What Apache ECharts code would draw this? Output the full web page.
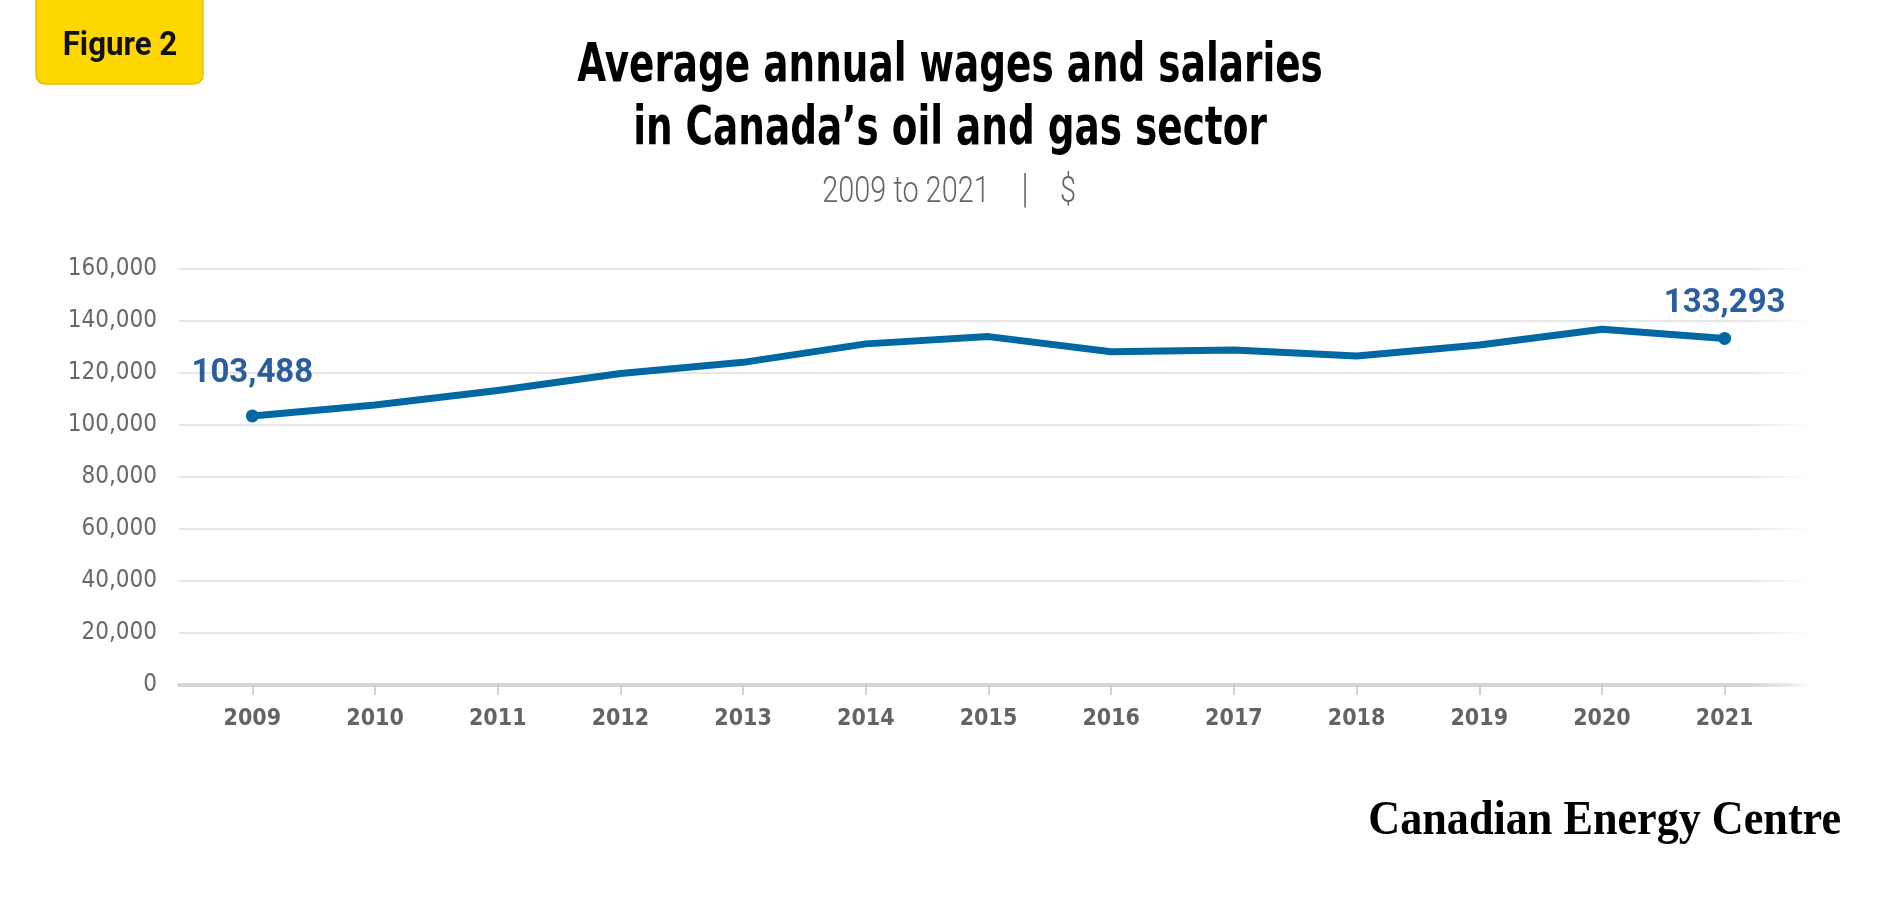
<!DOCTYPE html>
<html>
<head>
<meta charset="utf-8">
<title>Average annual wages and salaries in Canada's oil and gas sector</title>
<script src="https://cdn.jsdelivr.net/npm/echarts@6/dist/echarts.min.js"></script>
<style>
  html, body { margin: 0; padding: 0; background: #fff; }
  #main { width: 1900px; height: 900px; }
</style>
</head>
<body>
<div id="main"></div>
<script>
// data
var years = ['2009', '2010', '2011', '2012', '2013', '2014', '2015', '2016', '2017', '2018', '2019', '2020', '2021'];
var wages = [103488, 107700, 113300, 119800, 124100, 131200, 134000, 128200, 128800, 126500, 130800, 136800, 133293];
var yTicks = [0, 20000, 40000, 60000, 80000, 100000, 120000, 140000, 160000];
var titleLines = ['Average annual wages and salaries', 'in Canada\u2019s oil and gas sector'];

var fmt = function (v) { return v.toLocaleString('en-US'); };
var cond = '"DejaVu Sans Condensed", "DejaVu Sans", sans-serif';

var last = wages.length - 1;
var lineData = wages.map(function (v, i) {
  var end = (i === 0 || i === last);
  return {
    value: v,
    symbol: end ? 'circle' : 'none',
    label: { show: end, distance: i === 0 ? 19 : 12 }
  };
});

var myChart = echarts.init(document.getElementById('main'));

// grid lines and the base line fade out on the right
var gridFade = new echarts.graphic.LinearGradient(0, 0, 1, 0, [
  { offset: 0, color: '#dedede' },
  { offset: 0.96, color: '#dedede' },
  { offset: 1, color: 'rgba(222,222,222,0)' }
]);
var axisFade = new echarts.graphic.LinearGradient(0, 0, 1, 0, [
  { offset: 0, color: '#d4d4d4' },
  { offset: 0.96, color: '#d4d4d4' },
  { offset: 1, color: 'rgba(212,212,212,0)' }
]);

function headText(txt, x, y, opts) {
  return {
    type: 'text',
    x: x,
    y: y,
    scaleX: opts.scaleX || 1,
    style: {
      text: txt,
      fontFamily: opts.font || cond,
      fontWeight: opts.weight || 'normal',
      fontSize: opts.size,
      fill: opts.color || '#000',
      align: opts.align || 'center',
      verticalAlign: 'middle'
    }
  };
}

myChart.setOption({
  animation: false,
  backgroundColor: '#fff',
  grid: [
    { left: 191, right: 114, top: 269, bottom: 215 },
    { left: 179, right: 90, top: 269, bottom: 215 }
  ],
  xAxis: [
    {
      gridIndex: 0,
      type: 'category',
      data: years,
      boundaryGap: true,
      axisLine: { show: false },
      axisTick: {
        show: true,
        alignWithLabel: true,
        length: 10,
        lineStyle: { color: '#c4c4c4', width: 1.5 }
      },
      axisLabel: {
        margin: 23,
        fontFamily: cond,
        fontWeight: 'bold',
        fontSize: 23,
        color: '#636466'
      },
      splitLine: { show: false }
    },
    {
      gridIndex: 1,
      type: 'value',
      min: 0,
      max: 1,
      axisLine: { show: true, lineStyle: { color: axisFade, width: 4 } },
      axisTick: { show: false },
      axisLabel: { show: false },
      splitLine: { show: false }
    }
  ],
  yAxis: [
    {
      gridIndex: 0,
      type: 'value',
      min: 0,
      max: 160000,
      interval: 20000,
      show: false
    },
    {
      gridIndex: 1,
      type: 'value',
      min: yTicks[0],
      max: yTicks[yTicks.length - 1],
      interval: yTicks[1] - yTicks[0],
      axisLine: { show: false },
      axisTick: { show: false },
      axisLabel: {
        margin: 22,
        fontFamily: cond,
        fontSize: 24,
        color: '#67686b',
        formatter: fmt
      },
      splitLine: {
        show: true,
        lineStyle: { color: gridFade, width: 1.5 }
      }
    }
  ],
  series: [{
    name: 'Average annual wages and salaries',
    type: 'line',
    xAxisIndex: 0,
    yAxisIndex: 0,
    data: lineData,
    symbolSize: 13,
    lineStyle: { color: '#0068a3', width: 7, join: 'round' },
    itemStyle: { color: '#0068a3' },
    label: {
      position: 'top',
      fontFamily: 'Roboto, "Noto Sans", sans-serif',
      fontWeight: 'bold',
      fontSize: 33,
      color: '#2a5e9e',
      formatter: function (p) { return fmt(p.value); }
    },
    emphasis: { disabled: true }
  }],
  graphic: [
    {
      type: 'rect',
      shape: { x: 36, y: -12, width: 167, height: 96, r: 9 },
      style: { fill: '#ffd700', stroke: '#e3c000', lineWidth: 1.5 }
    },
    headText('Figure 2', 120, 46, { font: 'Roboto, sans-serif', weight: 'bold', size: 34, scaleX: 0.92, color: '#111' }),
    headText(titleLines[0], 950, 67, { weight: 'bold', size: 54, scaleX: 0.77 }),
    headText(titleLines[1], 950, 130, { weight: 'bold', size: 54, scaleX: 0.77 }),
    headText('2009 to 2021', 906, 193, { font: 'Roboto, sans-serif', weight: 300, size: 37, scaleX: 0.78, color: '#666' }),
    headText('|', 1025, 192, { font: 'Roboto, sans-serif', weight: 300, size: 40, scaleX: 0.8, color: '#666' }),
    headText('$', 1068, 193, { font: 'Roboto, sans-serif', weight: 300, size: 37, scaleX: 0.78, color: '#666' }),
    headText('Canadian Energy Centre', 1841, 822, {
      font: '"Liberation Serif", "DejaVu Serif", serif', weight: 'bold', size: 48, scaleX: 0.92, align: 'right'
    })
  ]
});
</script>
</body>
</html>
